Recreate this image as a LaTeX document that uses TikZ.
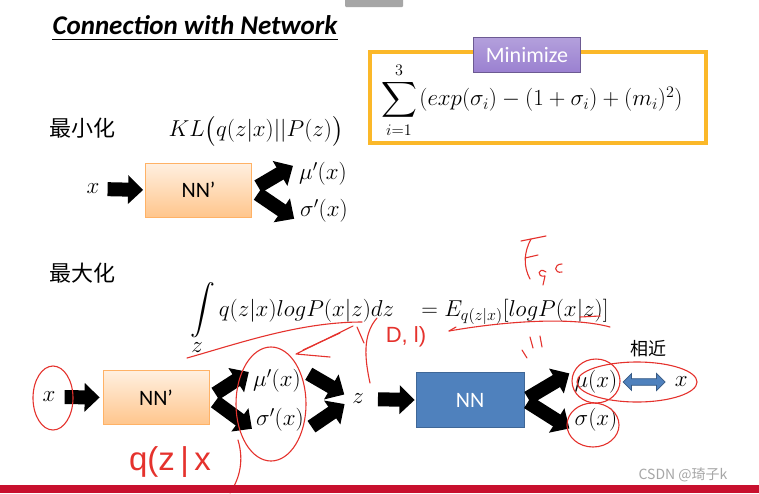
\RequirePackage{fix-cm}
\documentclass[tikz,border=0pt]{standalone}
\usepackage{amsmath}
\usepackage{fontspec}
\newfontfamily\carlito{Carlito}
\newfontfamily\cjk{Noto Sans CJK SC}
\newfontfamily\pensans{Liberation Sans}
\usepackage{tikz}
\usetikzlibrary{arrows.meta,positioning,shapes.arrows}
\definecolor{sumorange}{HTML}{FBB829}
\definecolor{minpurple}{HTML}{9A80D0}
\definecolor{nnblue}{HTML}{4F81BD}
\definecolor{penred}{HTML}{E5322D}
\definecolor{barred}{HTML}{C8102E}

\begin{document}
\begin{tikzpicture}[x=1pt, y=-1pt,
  mth/.style={inner sep=0pt, font=\fontsize{23}{27}\selectfont},
  cjklab/.style={inner sep=0pt, font=\cjk\fontsize{22}{26}\selectfont},
  nnbox/.style={draw=orange!60, line width=0.8pt, top color=orange!12, bottom color=orange!45, minimum width=106pt, minimum height=54pt, font=\carlito\fontsize{22}{26}\selectfont},
  nnblue/.style={draw=nnblue!80!black, line width=0.8pt, fill=nnblue, text=white, minimum width=108pt, minimum height=55pt, font=\carlito\fontsize{22}{26}\selectfont},
  blk/.style={line width=14pt, -{Triangle[length=15pt,width=28pt]}},
  dblarr/.style={double arrow, draw=nnblue!70!black, fill=nnblue, line width=0.8pt, minimum height=42pt, minimum width=17pt, double arrow head extend=3pt, inner sep=1.5pt},
  pen/.style={draw=penred, line width=1.1pt, line cap=round, line join=round}]
\useasboundingbox (0,0) rectangle (759,493);
\fill[white] (0,0) rectangle (759,493);
\fill[gray!70, rounded corners=1pt] (345,-3) rectangle (403,7);

% title
\node[inner sep=0pt, font=\carlito\bfseries\itshape\fontsize{27}{30}\selectfont] (title) at (195,25) {Connection with Network};
\draw[line width=1pt] ([yshift=-5pt]title.south west) -- ([yshift=-5pt]title.south east);

% minimize box
\node[draw=sumorange, line width=4pt, minimum width=336pt, minimum height=91pt] (sumb) at (538,97.5) {};
\node[mth] (sigma) at (399,100) {$\displaystyle\sum_{i=1}^{3}$};
\node[mth, anchor=base west] (terms) at ([xshift=2pt]sigma.base east) {$(exp(\sigma_i)-(1+\sigma_i)+(m_i)^2)$};
\node[draw=minpurple!70!black, line width=0.6pt, top color=minpurple!75, bottom color=minpurple, text=white, minimum width=107pt, minimum height=35pt, font=\carlito\fontsize{22}{26}\selectfont] (minz) at (527,55) {Minimize};

% KL part
\node[cjklab] (minlab) at (82,128) {最小化};
\node[mth] (kl) at (256,131) {$KL\big(q(z|x)||P(z)\big)$};
\node[mth] (x1) at (93,189) {$x$};
\node[nnbox] (nn1) at (198.5,190) {NN’};
\node[mth] (mu1) at (323,174) {$\mu'(x)$};
\node[mth] (sg1) at (324,211) {$\sigma'(x)$};
\draw[blk, shorten <=8pt, shorten >=2pt] (x1.east) -- (nn1.west);
\draw[blk, shorten <=7pt, shorten >=7pt] (nn1.east) -- (mu1.north west);
\draw[blk, shorten <=7pt, shorten >=7pt] (nn1.east) -- (sg1.south west);

% reconstruction part
\node[cjklab] (maxlab) at (82,273) {最大化};
\node[mth, anchor=base west] (elbo) at (190,316) {$\displaystyle\int\limits_{\textstyle z} q(z|x)logP(x|z)dz\ \ \ =E_{q(z|x)}[logP(x|z)]$};
\node[mth] (x2) at (49,397) {$x$};
\node[nnbox] (nn2) at (156,397.5) {NN’};
\node[mth] (mu2) at (277,381) {$\mu'(x)$};
\node[mth] (sg2) at (280,420) {$\sigma'(x)$};
\node[mth] (z2) at (358,399) {$z$};
\node[nnblue] (nn3) at (470,400) {NN};
\node[mth] (mu3) at (596,382) {$\mu(x)$};
\node[mth] (sg3) at (596,420) {$\sigma(x)$};
\node[dblarr, right=5pt of mu3] (near) {};
\node[mth, right=9pt of near] (x3) {$x$};
\node[inner sep=0pt, font=\cjk\fontsize{18}{22}\selectfont] (nearlab) at (648,349) {相近};
\draw[blk, shorten <=9pt, shorten >=3pt] (x2.east) -- (nn2.west);
\draw[blk, shorten <=7pt, shorten >=5pt] (nn2.east) -- (mu2.north west);
\draw[blk, shorten <=7pt, shorten >=5pt] (nn2.east) -- (sg2.south west);
\draw[blk, shorten <=9pt, shorten >=9pt] (mu2.north east) -- (z2.west);
\draw[blk, shorten <=9pt, shorten >=9pt] (sg2.south east) -- (z2.west);
\draw[blk, shorten <=14pt, shorten >=1pt] (z2.east) -- (nn3.west);
\draw[blk, shorten <=4pt, shorten >=6pt] (nn3.east) -- (mu3.north west);
\draw[blk, shorten <=4pt, shorten >=6pt] (nn3.east) -- (sg3.south west);

% pen notes
\draw[pen] (53,398) ellipse [x radius=20, y radius=32];
\draw[pen] (271,404) ellipse [x radius=35, y radius=57];
\draw[pen] (596,381) ellipse [x radius=24, y radius=22];
\draw[pen] (637,382) ellipse [x radius=60, y radius=20];
\draw[pen] (593,425) ellipse [x radius=26, y radius=22];
\draw[pen] (187,358) .. controls (240,343) and (300,322) .. (362,322);
\draw[pen] (353,326) -- (296,354) -- (330,357);
\draw[pen] (340,333) -- (303,350);
\draw[pen] (377,318) .. controls (362,335) and (365,360) .. (370,383);
\draw[pen] (357,327) -- (364,343);
\node[inner sep=0pt, text=penred, font=\pensans\fontsize{22}{26}\selectfont] (dl) at (406,337) {D, l)};
\draw[pen] (449,331) .. controls (500,322) and (570,316) .. (610,327);
\draw[pen] (449,331) -- (456,327);
\draw[pen] (580,317) -- (600,316);
% scribbled E
\draw[pen] (521,241) -- (546,236);
\draw[pen] (531,239) .. controls (524,252) and (523,266) .. (530,279);
\draw[pen] (525,258) -- (538,255);
\draw[pen] (546,272) .. controls (538,266) and (536,278) .. (545,276) -- (543,285);
\draw[pen] (562,264) .. controls (553,264) and (554,274) .. (562,272);
\draw[pen] (522,350) -- (527,358);
\draw[pen] (530,337) -- (533,348);
\draw[pen] (540,336) -- (542,347);
\node[inner sep=0pt, text=penred, font=\pensans\fontsize{33}{36}\selectfont] (qzx) at (170,462) {q(z\,|\,x};
\draw[pen] (238,440) .. controls (244,460) and (240,478) .. (230,493);

% footer
\node[inner sep=0pt, text=gray!70, font=\cjk\fontsize{14}{16}\selectfont] (csdn) at (683,475) {CSDN @琦子k};
\fill[barred] (0,485) rectangle (759,493);
\end{tikzpicture}
\end{document}
